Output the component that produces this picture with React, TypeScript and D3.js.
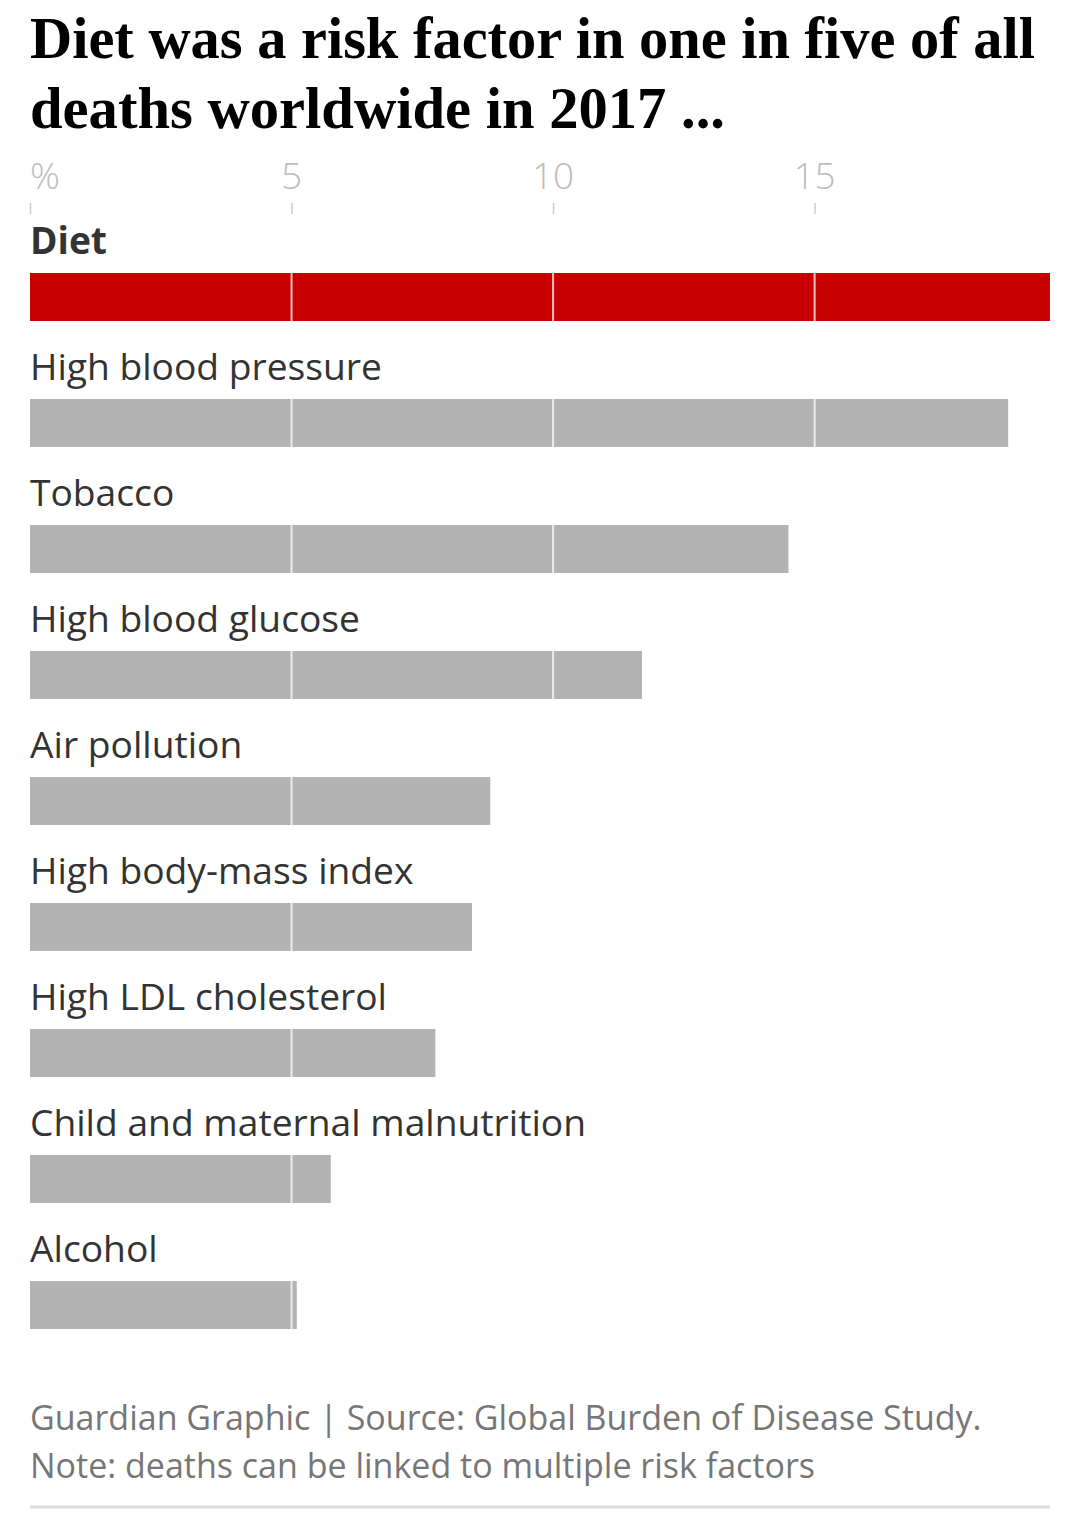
import React, { useEffect, useRef } from 'react';
import * as d3 from 'd3';

const categories = [
	'Diet',
	'High blood pressure',
	'Tobacco',
	'High blood glucose',
	'Air pollution',
	'High body-mass index',
	'High LDL cholesterol',
	'Child and maternal malnutrition',
	'Alcohol',
];
const values = [19.5, 18.7, 14.5, 11.7, 8.8, 8.45, 7.75, 5.75, 5.1];
const tickValues = [0, 5, 10, 15];
const titleLines = [
	'Diet was a risk factor in one in five of all',
	'deaths worldwide in 2017 ...',
];
const footerLines = [
	'Guardian Graphic | Source: Global Burden of Disease Study.',
	'Note: deaths can be linked to multiple risk factors',
];

const WIDTH = 1080;
const HEIGHT = 1539;
const SANS = "'Open Sans', 'Noto Sans', sans-serif";

const App = () => {
	const ref = useRef<SVGSVGElement>(null);

	useEffect(() => {
		const svg = d3.select(ref.current);
		svg.selectAll('*').remove();

		const left = 30;
		const right = 1050;
		const x = d3
			.scaleLinear()
			.domain([0, d3.max(values) as number])
			.range([left, right]);

		const y = d3
			.scaleBand()
			.domain(categories)
			.range([231, 231 + 126 * categories.length])
			.paddingInner(0)
			.paddingOuter(0);

		// title
		svg
			.append('g')
			.selectAll('text')
			.data(titleLines)
			.enter()
			.append('text')
			.attr('x', left)
			.attr('y', (d, i) => 58 + i * 70)
			.attr('font-family', "'Liberation Serif', serif")
			.attr('font-weight', 700)
			.attr('font-size', 60)
			.attr('fill', '#000')
			.attr('textLength', (d, i) => (i === 0 ? 1005 : 695))
			.attr('lengthAdjust', 'spacingAndGlyphs')
			.text((d) => d);

		// axis ticks
		const axis = svg.append('g');
		axis
			.selectAll('text')
			.data(tickValues)
			.enter()
			.append('text')
			.attr('x', (d) => x(d))
			.attr('y', 189)
			.attr('text-anchor', (d) => (d === 0 ? 'start' : 'middle'))
			.attr('font-family', SANS)
			.attr('font-weight', 300)
			.attr('font-size', 37)
			.attr('fill', '#bdbdbd')
			.text((d) => (d === 0 ? '%' : d));
		axis
			.selectAll('line')
			.data(tickValues)
			.enter()
			.append('line')
			.attr('x1', (d) => x(d) + 0.5)
			.attr('x2', (d) => x(d) + 0.5)
			.attr('y1', 203)
			.attr('y2', 214)
			.attr('stroke', '#cccccc')
			.attr('stroke-width', 1.5);

		// rows
		const rows = svg
			.append('g')
			.selectAll('g')
			.data(categories)
			.enter()
			.append('g')
			.attr('transform', (d) => `translate(0,${y(d)})`);

		rows
			.append('text')
			.attr('x', left)
			.attr('y', 23)
			.attr('font-family', SANS)
			.attr('font-weight', (d, i) => (i === 0 ? 700 : 400))
			.attr('font-size', 37.2)
			.attr('fill', '#333333')
			.text((d) => d);

		rows
			.append('rect')
			.attr('x', left)
			.attr('y', 42)
			.attr('width', (d, i) => x(values[i]) - left)
			.attr('height', 48)
			.attr('fill', (d, i) => (i === 0 ? '#c70000' : '#b3b3b3'));

		// white gridlines over the bars
		rows.each(function (d, i) {
			d3.select(this)
				.selectAll('line')
				.data(tickValues.filter((t) => t > 0 && t < values[i]))
				.enter()
				.append('line')
				.attr('x1', (t) => x(t))
				.attr('x2', (t) => x(t))
				.attr('y1', 42)
				.attr('y2', 90)
				.attr('stroke', '#ffffff')
				.attr('stroke-opacity', 0.75)
				.attr('stroke-width', 2);
		});

		// footer
		svg
			.append('g')
			.selectAll('text')
			.data(footerLines)
			.enter()
			.append('text')
			.attr('x', left)
			.attr('y', (d, i) => 1430 + i * 48)
			.attr('font-family', SANS)
			.attr('font-size', 34)
			.attr('fill', '#767676')
			.text((d) => d);

		svg
			.append('line')
			.attr('x1', left)
			.attr('x2', right)
			.attr('y1', 1507)
			.attr('y2', 1507)
			.attr('stroke', '#dcdcdc')
			.attr('stroke-width', 3);
	}, []);

	return (
		<svg
			ref={ref}
			width={WIDTH}
			height={HEIGHT}
			style={{ position: 'absolute', left: 0, top: 0, background: '#fff' }}
		></svg>
	);
};

export default App;
